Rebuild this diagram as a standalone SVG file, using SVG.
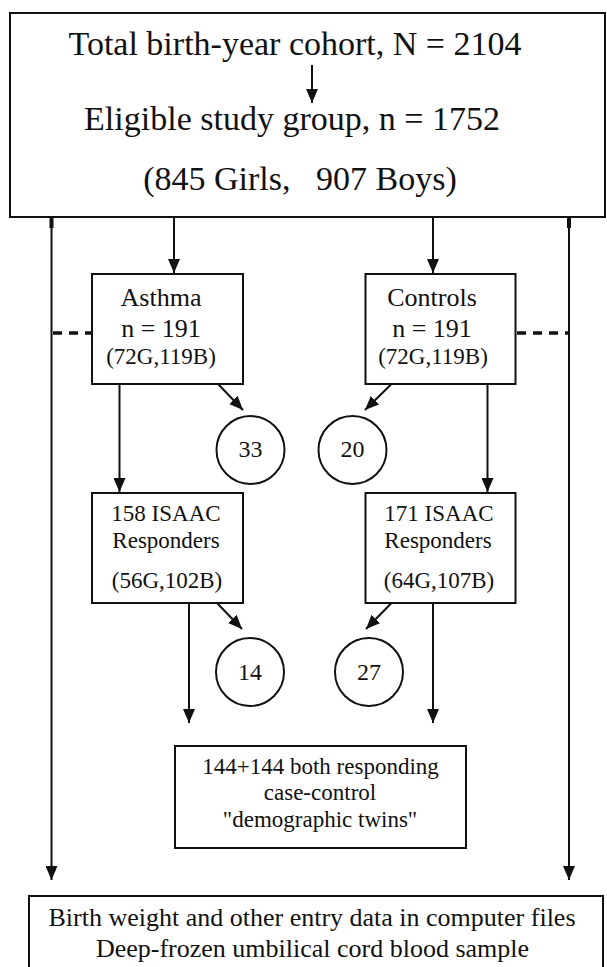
<svg xmlns="http://www.w3.org/2000/svg" width="607" height="967" viewBox="0 0 607 967">
<style>
.box{fill:#fff;stroke:#111;stroke-width:2}
.circ{fill:#fff;stroke:#111;stroke-width:2}
.ln{stroke:#111;stroke-width:2;fill:none}
.stub{stroke:#111;stroke-width:4;fill:none}
.arr{stroke:#111;stroke-width:2;fill:none;marker-end:url(#ah)}
.dash{stroke:#111;stroke-width:3.5;stroke-dasharray:9,7;fill:none}
text{font-family:"Liberation Serif","Times New Roman",serif;fill:#111;text-anchor:middle;white-space:pre}
.big{font-size:34px}
.mid{font-size:26px}
.num{font-size:24px}
.sm{font-size:23px}
</style>
<defs>
<marker id="ah" markerUnits="userSpaceOnUse" markerWidth="14" markerHeight="12" refX="14" refY="6" orient="auto">
<path d="M0,0 L14,6 L0,12 z" fill="#111"/>
</marker>
</defs>
<rect width="607" height="967" fill="#fff"/>
<g id="connectors">
<line class="arr" x1="51.5" y1="217" x2="51.5" y2="880"/>
<line class="arr" x1="569" y1="217" x2="569" y2="880"/>
<line class="stub" x1="51.5" y1="216" x2="51.5" y2="228"/>
<line class="stub" x1="569" y1="216" x2="569" y2="228"/>
<line class="arr" x1="174" y1="217" x2="174" y2="273"/>
<line class="arr" x1="433" y1="217" x2="433" y2="273"/>
<line class="dash" x1="53" y1="333" x2="92" y2="333"/>
<line class="dash" x1="517" y1="333" x2="568" y2="333"/>
<line class="arr" x1="119.5" y1="384" x2="119.5" y2="492"/>
<line class="arr" x1="487.5" y1="384" x2="487.5" y2="492"/>
<line class="arr" x1="218" y1="384" x2="243" y2="410"/>
<line class="arr" x1="391.5" y1="384" x2="365" y2="410"/>
<line class="arr" x1="189" y1="603" x2="189" y2="723"/>
<line class="arr" x1="433" y1="603" x2="433" y2="723"/>
<line class="arr" x1="217" y1="603" x2="242" y2="629"/>
<line class="arr" x1="391.5" y1="603" x2="366" y2="629"/>
</g>
<g id="top">
<rect class="box" x="10" y="13" width="595" height="204"/>
<text class="big" x="295" y="55">Total birth-year cohort, N = 2104</text>
<line class="arr" x1="312" y1="65" x2="312" y2="103"/>
<text class="big" x="292" y="130">Eligible study group, n = 1752</text>
<text class="big" x="300" y="190">(845 Girls,   907 Boys)</text>
</g>
<g id="asthma">
<rect class="box" x="92" y="274" width="151" height="110"/>
<text class="mid" x="161" y="306">Asthma</text>
<text class="mid" x="161" y="337">n = 191</text>
<text class="sm" x="161" y="364">(72G,119B)</text>
</g>
<g id="controls">
<rect class="box" x="365.5" y="274" width="150" height="110"/>
<text class="mid" x="432" y="306">Controls</text>
<text class="mid" x="432" y="337">n = 191</text>
<text class="sm" x="433" y="364">(72G,119B)</text>
</g>
<g id="c33">
<circle class="circ" cx="250.5" cy="450" r="34"/>
<text class="num" x="250.5" y="457">33</text>
</g>
<g id="c20">
<circle class="circ" cx="352.5" cy="450" r="34"/>
<text class="num" x="352.5" y="457">20</text>
</g>
<g id="isaac158">
<rect class="box" x="92" y="493" width="151" height="110"/>
<text class="sm" x="166" y="521">158 ISAAC</text>
<text class="sm" x="166" y="548">Responders</text>
<text class="sm" x="167" y="588">(56G,102B)</text>
</g>
<g id="isaac171">
<rect class="box" x="365.5" y="493" width="150" height="110"/>
<text class="sm" x="439" y="521">171 ISAAC</text>
<text class="sm" x="438" y="548">Responders</text>
<text class="sm" x="439" y="588">(64G,107B)</text>
</g>
<g id="c14">
<circle class="circ" cx="250" cy="672" r="34"/>
<text class="num" x="250" y="680">14</text>
</g>
<g id="c27">
<circle class="circ" cx="369" cy="672" r="34"/>
<text class="num" x="369" y="680">27</text>
</g>
<g id="twins">
<rect class="box" x="175" y="746" width="291" height="102"/>
<text class="sm" x="320.5" y="774">144+144 both responding</text>
<text class="sm" x="320" y="800">case-control</text>
<text class="sm" x="320" y="827">"demographic twins"</text>
</g>
<g id="bottom">
<rect class="box" x="29" y="896" width="574" height="80"/>
<text class="mid" x="312" y="926">Birth weight and other entry data in computer files</text>
<text class="mid" x="312.5" y="957">Deep-frozen umbilical cord blood sample</text>
</g>
</svg>
